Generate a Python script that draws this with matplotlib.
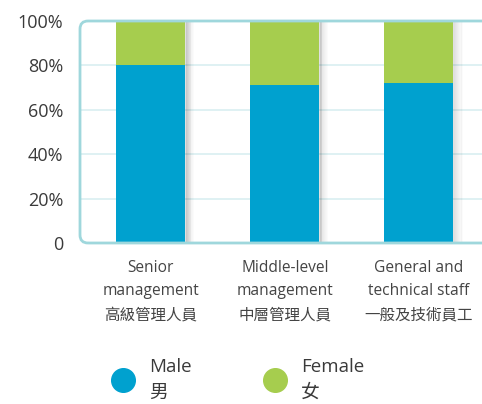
import matplotlib
matplotlib.use("Agg")
from matplotlib import pyplot as plt
from matplotlib.patches import FancyBboxPatch
from matplotlib.lines import Line2D

categories = ["Senior\nmanagement\n高級管理人員",
              "Middle-level\nmanagement\n中層管理人員",
              "General and\ntechnical staff\n一般及技術員工"]
male = [80, 71, 72]
female = [20, 29, 28]
yticks = [0, 20, 40, 60, 80, 100]
ytick_labels = ["0", "20%", "40%", "60%", "80%", "100%"]

blue = "#00a1cf"
green = "#a6cd4e"
frame = "#9fd7dc"
grid = "#d9eff1"
txt = "#3a3a3a"

plt.rcParams['font.family'] = ['Open Sans', 'Noto Sans CJK TC']

fig = plt.figure(figsize=(4.82, 4.04), dpi=100)
ax = fig.add_axes([80 / 482, 161 / 404, 1.0 - 80 / 482, 222 / 404])

x = list(range(len(categories)))
w = 0.515

# soft shadow on the right of each bar
for k in range(8):
    ax.bar([i + w / 2 + k * 0.008 for i in x], [100] * len(x), width=0.012,
           align='edge', color='#000000', alpha=0.12 * (1 - k / 8), zorder=2, linewidth=0)

ax.bar(x, male, width=w, color=blue, zorder=3, linewidth=0)
ax.bar(x, female, width=w, bottom=male, color=green, zorder=3, linewidth=0)

ax.set_xlim(-0.526, 2.47)
ax.set_ylim(0, 100)
ax.set_yticks(yticks)
ax.set_yticklabels(ytick_labels, fontsize=13, color=txt)
for y in yticks[1:-1]:
    ax.axhline(y, color=grid, lw=1.2, zorder=1)

ax.set_xticks(x)
ax.set_xticklabels(categories, fontsize=11.2, color="#444444", linespacing=1.65)
ax.tick_params(axis='both', length=0)
ax.tick_params(axis='x', pad=12)
ax.tick_params(axis='y', pad=12)
for s in ax.spines.values():
    s.set_visible(False)

box = FancyBboxPatch((0, 0), 1.1, 1, boxstyle="round,pad=0,rounding_size=0.02",
                     transform=ax.transAxes, fill=False, edgecolor=frame,
                     lw=2, clip_on=False, zorder=4, mutation_aspect=402 / 222)
ax.add_patch(box)

handles = [Line2D([], [], marker='o', ls='', markersize=17, color=blue),
           Line2D([], [], marker='o', ls='', markersize=17, color=green)]
leg = fig.legend(handles, ["Male\n男", "Female\n女"], loc='center left',
                 bbox_to_anchor=(95 / 482, 1 - 380 / 404), ncol=2, frameon=False,
                 fontsize=13.5, labelcolor=txt, handletextpad=0.77, columnspacing=3.87,
                 handlelength=1.2)
for t in leg.get_texts():
    t.set_linespacing(1.55)

fig.savefig("out.png", dpi=100)
